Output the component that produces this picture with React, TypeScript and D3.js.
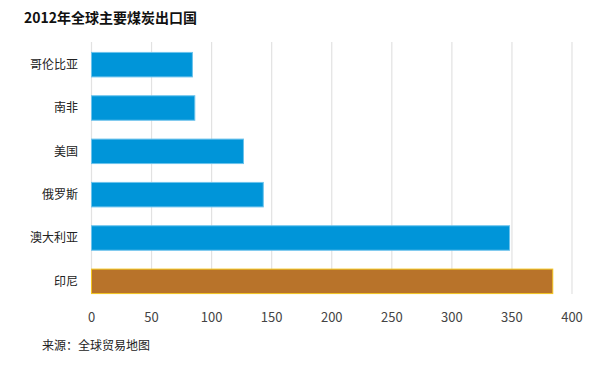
import React, { useEffect, useRef } from 'react';
import * as d3 from 'd3';

const countries = ['哥伦比亚', '南非', '美国', '俄罗斯', '澳大利亚', '印尼'];
const exportsMt = [84, 86, 126.5, 143, 348, 384];
const xTicks = [0, 50, 100, 150, 200, 250, 300, 350, 400];
const highlight = '印尼';

const title = '2012年全球主要煤炭出口国';
const source = '来源：全球贸易地图';

const W = 600;
const H = 366;
const FONT = '"Noto Sans CJK SC", "Noto Sans", sans-serif';

const App = () => {
  const ref = useRef<SVGSVGElement>(null);

  useEffect(() => {
    const svg = d3.select(ref.current);
    svg.selectAll('*').remove();

    const x = d3.scaleLinear().domain([0, 400]).range([91.5, 572]);
    const y = d3.scaleBand<string>()
      .domain(countries)
      .range([43, 303])
      .paddingInner(0.435)
      .paddingOuter(0.2175);

    svg.append('rect').attr('width', W).attr('height', H).attr('fill', '#fff');

    // gridlines
    svg.selectAll('line.grid')
      .data(xTicks)
      .enter()
      .append('line')
      .attr('class', 'grid')
      .attr('x1', d => x(d))
      .attr('x2', d => x(d))
      .attr('y1', 42)
      .attr('y2', 294)
      .attr('stroke', '#e2e2e2')
      .attr('stroke-width', 1.2);

    // bars
    svg.selectAll('rect.bar')
      .data(countries)
      .enter()
      .append('rect')
      .attr('class', 'bar')
      .attr('x', x(0))
      .attr('y', d => y(d)!)
      .attr('width', (d, i) => x(exportsMt[i]) - x(0))
      .attr('height', y.bandwidth())
      .attr('fill', d => (d === highlight ? '#b8732a' : '#0095d9'))
      .attr('stroke', d => (d === highlight ? '#f3c41f' : '#6cc3ec'))
      .attr('stroke-width', 1);

    // category labels
    svg.selectAll('text.cat')
      .data(countries)
      .enter()
      .append('text')
      .attr('class', 'cat')
      .attr('x', 78)
      .attr('y', d => y(d)! + y.bandwidth() / 2)
      .attr('dy', '0.35em')
      .attr('text-anchor', 'end')
      .attr('font-family', FONT)
      .attr('font-size', 12)
      .attr('fill', '#222')
      .text(d => d);

    // x tick labels
    svg.selectAll('text.tick')
      .data(xTicks)
      .enter()
      .append('text')
      .attr('class', 'tick')
      .attr('x', d => x(d))
      .attr('y', 317)
      .attr('dy', '0.35em')
      .attr('text-anchor', 'middle')
      .attr('font-family', FONT)
      .attr('font-size', 13)
      .attr('fill', '#444')
      .text(d => d);

    svg.append('text')
      .attr('x', 24)
      .attr('y', 18)
      .attr('dy', '0.35em')
      .attr('font-family', FONT)
      .attr('font-size', 14)
      .attr('font-weight', 'bold')
      .attr('fill', '#111')
      .text(title);

    svg.append('text')
      .attr('x', 42)
      .attr('y', 346)
      .attr('dy', '0.35em')
      .attr('font-family', FONT)
      .attr('font-size', 12)
      .attr('fill', '#222')
      .text(source);
  }, []);

  return (
    <svg
      ref={ref}
      width={W}
      height={H}
      style={{ position: 'absolute', left: 0, top: 0 }}
    />
  );
};

export default App;
